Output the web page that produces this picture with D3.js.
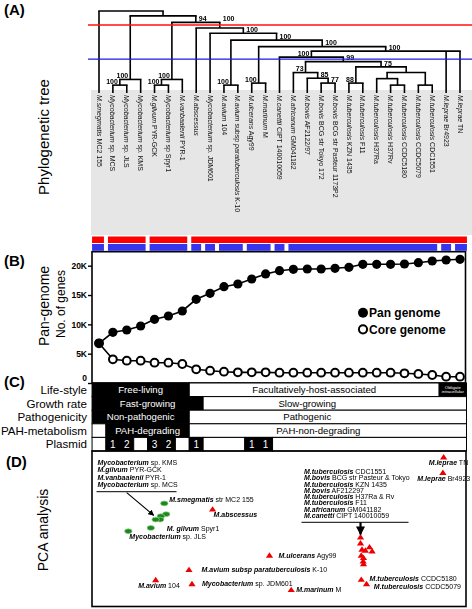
<!DOCTYPE html>
<html><head><meta charset="utf-8">
<script src="https://cdn.jsdelivr.net/npm/d3@7/dist/d3.min.js"></script>
<style>
html,body{margin:0;padding:0;background:#fff;}
svg{display:block;font-family:"Liberation Sans",Arial,Helvetica,sans-serif;}
</style></head>
<body><svg id="c" width="472" height="609"></svg>
<script>
// ---------------- DATA ----------------
// leaves (left to right); *...* = italic part
const leafLabels = [
 "*M.smegmatis* MC2 155","*Mycobacterium* sp. MCS","*Mycobacterium* sp. JLS","*Mycobacterium* sp. KMS",
 "*M.gilvum* PYR-GCK","*Mycobacterium* sp Spyr1","*M.vanbaalenii* PYR-1","*M.abscessus*",
 "*Mycobacterium* sp. JDM601","*M.avium* 104","*M.avium* subsp *paratuberculosis* K-10","*M.ulcerans* Agy99",
 "*M.marinum* M","*M.canettii* CIPT 140010059","*M.africanum* GM041182","*M.bovis* AF2122/97",
 "*M.bovis* BCG str Tokyo 172","*M.bovis* BCG str Pasteur 1173P2","*M.tuberculosis* KZN 1435","*M.tuberculosis* F11",
 "*M.tuberculosis* H37Ra","*M.tuberculosis* H37Rv","*M.tuberculosis* CCDC5180","*M.tuberculosis* CCDC5079",
 "*M.tuberculosis* CDC1551","*M.leprae* Br4923","*M.leprae* TN"];
// internal nodes: [name, children, height (root = 1), bootstrap support]
const treeNodes = [
 ["n1",[1,2],0.085,100],["n2",["n1",3],0.155,100],
 ["n3",[4,5],0.085,100],["n4",["n3",6],0.155,100],
 ["avi",[9,10],0.085,100],["um",[11,12],0.11,100],
 ["M",[16,17],0.11,77],["L",[15,"M"],0.17,85],["J",[14,"L"],0.24,73],
 ["N",[18,19],0.11,88],["P2",[21,22],0.085,null],["P",[20,"P2"],0.165,null],
 ["Q",[23,24],0.085,null],["O",["P","Q"],0.24,null],["K",["N","O"],0.31,75],
 ["I",["J","K"],0.375,99],["H",[13,"I"],0.43,100],["G",["H",25,26],0.505,100],
 ["F",["um","G"],0.56,100],["E",["avi","F"],0.64,100],["D",[8,"E"],0.725,100],
 ["C",[7,"D"],0.79,100],["B",["n4","C"],0.86,94],["A",["n2","B"],0.94,null],
 ["root",[0,"A"],1.0,null]];
const redCut = 0.827, blueCut = 0.407;

// pan / core genome sizes (genes)
const panGenome  = [6770,8640,9040,9720,10860,11420,12280,14270,15290,16420,16880,17730,18590,19150,19390,19440,19440,19560,19730,20240,20240,20240,20290,20510,20800,20970,21090];
const coreGenome = [6770,4040,3800,3800,3460,3460,3240,2340,2100,1930,1820,1820,1820,1760,1760,1760,1760,1760,1760,1760,1760,1760,1650,1540,1360,1070,1070];
const panTicks = [0,5000,10000,15000,20000];

// phenotype table: [label, firstLeaf, lastLeaf, black?, labelCentreLeaf(optional)]
const rowNames = ["Life-style","Growth rate","Pathogenicity","PAH-metabolism","Plasmid"];
const lifeStyle = [["Free-living",0,6,1],["Facultatively-host-associated",7,24,0],["Obligate\nintracellular",25,26,1]];
const growthRate = [["Fast-growing",0,7,1],["Slow-growing",8,26,0,15]];
const pathogenicity = [["Non-pathogenic",0,6,1],["Pathogenic",7,26,0,15]];
const pahMetabolism = [["",0,0,0],["PAH-degrading",1,6,1],["PAH-non-degrading",7,26,0,15.8]];
const plasmids = [0,1,2,0,3,2,0,1,0,0,0,1,1,0,0,0,0,0,0,0,0,0,0,0,0,0,0];

// PCA (arbitrary units)
const pcaNames = ["M.smegmatis MC2 155","Mycobacterium sp. KMS","M.gilvum PYR-GCK","M.vanbaalenii PYR-1","Mycobacterium sp. MCS",
 "M.gilvum Spyr1","Mycobacterium sp. JLS","M.abscessus","M.avium paratuberculosis K-10","M.avium 104","Mycobacterium sp. JDM601",
 "M.ulcerans Agy99","M.marinum M","M.tuberculosis CDC1551","M.bovis BCG Pasteur","M.bovis BCG Tokyo","M.tuberculosis KZN 1435",
 "M.bovis AF2122/97","M.tuberculosis H37Ra","M.tuberculosis H37Rv","M.tuberculosis F11","M.africanum GM041182","M.canettii CIPT 140010059",
 "M.tuberculosis CCDC5180","M.tuberculosis CCDC5079","M.leprae TN","M.leprae Br4923"];
const pcaPC1 = [19.3,19.8,18.4,18.2,17.0,15.7,9.7,32.2,25.9,17.0,26.7,47.4,53.2,71.7,71.7,72.1,73.0,74.1,74.8,71.9,72.5,72.4,72.5,71.9,73.3,93.9,93.7];
const pcaPC2 = [66.3,59.4,58.1,55.9,55.9,50.5,48.4,62.6,23.7,17.2,14.6,32.9,10.8,44.7,40.8,36.8,36.1,38.3,35.7,32.9,31.4,29.2,27.5,17.4,14.6,96.1,86.1];
const pcaFast = [1,1,1,1,1,1,1,0,0,0,0,0,0,0,0,0,0,0,0,0,0,0,0,0,0,0,0];
const pcaLabels = {0:"*M.smegmatis* str MC2 155",5:"*M. gilvum* Spyr1",6:"*Mycobacterium* sp. JLS",7:"*M.abscessus*",
 8:"*M.avium subsp paratuberculosis* K-10",9:"*M.avium* 104",10:"*Mycobacterium* sp. JDM601",11:"*M.ulcerans* Agy99",
 12:"*M.marinum* M",23:"*M.tuberculosis* CCDC5180",24:"*M.tuberculosis* CCDC5079",25:"*M.leprae* TN",26:"*M.leprae* Br4923"};
const fastGroupText = ["*Mycobacterium* sp. KMS","*M.gilvum* PYR-GCK","*M.vanbaalenii* PYR-1","*Mycobacterium* sp. MCS"];
const slowGroupText = ["*M.tuberculosis* CDC1551","*M.bovis* BCG str Pasteur & Tokyo","*M.tuberculosis* KZN 1435","*M.bovis* AF212297",
 "*M.tuberculosis* H37Ra & Rv","*M.tuberculosis* F11","*M.africanum* GM041182","*M.canetti* CIPT 140010059"];

// ---------------- LAYOUT / STYLE ----------------
const FONT = '"Liberation Sans",Arial,Helvetica,sans-serif';
const LEFT = 92, RIGHT = 466.5;
const labelOff = {0:[5,-1],5:[16,3],6:[1,7.5],7:[1,7.5],8:[12.5,2.5],9:[-17.5,8],10:[10,2.7],11:[9,2.3],12:[5,2.7],23:[8.3,2],24:[7.3,5],25:[-15,8],26:[-25.6,8]};
const supportEnd = new Set(["n1","n2","n3","n4","avi","um","H","J","N"]);
const supportDy = {C:-6};

const svg = d3.select("#c");
const defs = svg.append("defs");
defs.append("filter").attr("id","gray").append("feColorMatrix").attr("type","saturate").attr("values",0);

function richText(sel, s, boldItalic){
  s.split("*").forEach((t,i)=>{
    if(!t.length) return;
    const ts = sel.append("tspan").text(t);
    if(i%2===1){ ts.attr("font-style","italic"); if(boldItalic) ts.attr("font-weight","bold"); }
  });
}
function panelLetter(t,x,y){ svg.append("text").attr("x",x).attr("y",y).attr("font-size",15).attr("font-weight","bold").text(t); }
function sideTitle(t,x,y,fs){ svg.append("text").attr("transform",`translate(${x},${y}) rotate(-90)`).attr("text-anchor","middle").attr("font-size",fs).text(t); }

// ---------------- (A) TREE ----------------
const leafX = d3.scalePoint().domain(d3.range(leafLabels.length)).range([99,460]);
const step = leafX.step();
const treeY = d3.scaleLinear().domain([0,1]).range([92,11]);

svg.append("rect").attr("x",91).attr("y",90).attr("width",472-91).attr("height",145).attr("fill","#e6e6e6");

const nodes = {};
const xOf = c => typeof c === "number" ? leafX(c) : nodes[c].x;
const hOf = c => typeof c === "number" ? 0 : nodes[c].h;
const leavesOf = c => typeof c === "number" ? [c] : nodes[c].leaves;
treeNodes.forEach(([name,ch,h,bs])=>{
  const xs = ch.map(xOf);
  nodes[name] = {name,ch,h,bs,x:(d3.min(xs)+d3.max(xs))/2,x0:d3.min(xs),x1:d3.max(xs),leaves:ch.flatMap(leavesOf)};
});
const gT = svg.append("g").attr("stroke","#000").attr("stroke-width",1.6).attr("fill","none");
treeNodes.forEach(([name])=>{
  const n = nodes[name], y = treeY(n.h);
  gT.append("line").attr("x1",n.x0-0.8).attr("x2",n.x1+0.8).attr("y1",y).attr("y2",y);
  n.ch.forEach(c=>{
    gT.append("line").attr("x1",xOf(c)).attr("x2",xOf(c)).attr("y1",y).attr("y2",typeof c==="number"?treeY(0)+1:treeY(hOf(c)));
  });
});
// support values
const gS = svg.append("g").attr("filter","url(#gray)");
treeNodes.forEach(([name,ch,h,bs])=>{
  if(bs==null) return;
  const n = nodes[name], end = supportEnd.has(name);
  gS.append("text").attr("x", n.x + (end?-2:3)).attr("y", treeY(h) - 1.3 + (supportDy[name]||0))
    .attr("text-anchor", end?"end":"start").attr("font-size",7).attr("font-weight","bold").attr("fill","#000").text(bs);
});
// cut lines
svg.append("line").attr("x1",88).attr("x2",472).attr("y1",treeY(redCut)).attr("y2",treeY(redCut)).attr("stroke","#ff1010").attr("stroke-width",1.3);
svg.append("line").attr("x1",88).attr("x2",472).attr("y1",treeY(blueCut)).attr("y2",treeY(blueCut)).attr("stroke","#1a1ae6").attr("stroke-width",1.3);
// leaf labels
const gL = svg.append("g").attr("filter","url(#gray)");
leafLabels.forEach((s,i)=>{
  const t = gL.append("text").attr("transform",`translate(${leafX(i)-2.4},95) rotate(90)`).attr("font-size",7).attr("fill","#111");
  richText(t,s,false);
});
// clusters from cuts
function clusters(cut){
  const out=[];
  (function walk(c){ if(hOf(c) > cut) nodes[c].ch.forEach(walk); else out.push(leavesOf(c)); })("root");
  return out.map(l=>[d3.min(l),d3.max(l)]).sort((a,b)=>a[0]-b[0]);
}
function clusterBar(cut,y,h,color){
  clusters(cut).forEach(([a,b],k,arr)=>{
    const x0 = Math.max(leafX(a)-step/2+(k?2:0), 91), x1 = Math.min(leafX(b)+step/2-(k<arr.length-1?2:0), 471);
    svg.append("rect").attr("x",x0).attr("y",y).attr("width",x1-x0).attr("height",h).attr("fill",color);
  });
}
clusterBar(redCut,236.5,6.5,"#ff0000");
clusterBar(blueCut,244,6.8,"#3535f0");

panelLetter("(A)",4,15);
sideTitle("Phylogenetic tree",49,137,15);

// ---------------- (B) PAN GENOME ----------------
const plotTop = 251.7, plotBot = 383;
const yPan = d3.scaleLinear().domain([0,20000]).range([plotBot,265.7]);
svg.append("rect").attr("x",LEFT).attr("y",plotTop).attr("width",RIGHT-LEFT-1).attr("height",plotBot-plotTop).attr("fill","none").attr("stroke","#000").attr("stroke-width",1.6);
const ax = svg.append("g").attr("transform",`translate(${LEFT},0)`)
  .call(d3.axisLeft(yPan).tickValues(panTicks).tickSize(4).tickPadding(1).tickFormat(d=>d===0?"0":(d/1000)+"K"));
ax.select(".domain").remove();
ax.selectAll("line").attr("stroke-width",1.4);
ax.selectAll("text").attr("font-size",8.5).attr("font-weight","bold").attr("font-family",FONT);
ax.selectAll(".tick").filter(d=>d===0).select("text").attr("dy","-0.25em");
const lineGen = d3.line().x((d,i)=>leafX(i)).y(d=>yPan(d));
svg.append("path").attr("d",lineGen(panGenome)).attr("fill","none").attr("stroke","#000").attr("stroke-width",1.6);
svg.append("path").attr("d",lineGen(coreGenome)).attr("fill","none").attr("stroke","#000").attr("stroke-width",1.6);
svg.selectAll(".core").data(coreGenome).join("circle").attr("cx",(d,i)=>leafX(i)).attr("cy",d=>yPan(d)).attr("r",3.9)
  .attr("fill","#fff").attr("stroke","#000").attr("stroke-width",2);
svg.selectAll(".pan").data(panGenome).join("circle").attr("cx",(d,i)=>leafX(i)).attr("cy",d=>yPan(d)).attr("r",4.6).attr("fill","#000");
// legend
svg.append("circle").attr("cx",363).attr("cy",312.7).attr("r",5).attr("fill","#000");
svg.append("circle").attr("cx",363).attr("cy",329.3).attr("r",4.1).attr("fill","#fff").attr("stroke","#000").attr("stroke-width",2);
svg.append("text").attr("x",369).attr("y",316.8).attr("font-size",12).attr("font-weight","bold").text("Pan genome");
svg.append("text").attr("x",369).attr("y",333.5).attr("font-size",12).attr("font-weight","bold").text("Core genome");
panelLetter("(B)",4,266);
sideTitle("Pan-genome",49,306,14);
sideTitle("No. of genes",65,304,12);

// ---------------- (C) TABLE ----------------
const rowH = 13.6, tTop = plotBot;
const segX0 = i => Math.max(leafX(i)-step/2, LEFT), segX1 = i => Math.min(leafX(i)+step/2, RIGHT);
function drawRow(r, segs){
  const y0 = tTop + r*rowH;
  segs.forEach(([lab,a,b,black,at])=>{
    const x0 = segX0(a), x1 = segX1(b);
    svg.append("rect").attr("x",x0).attr("y",y0).attr("width",x1-x0).attr("height",rowH)
      .attr("fill",black?"#000":"#fff").attr("stroke","#000").attr("stroke-width",1);
    const lines = lab.split("\n");
    const cx = at!=null ? leafX(Math.floor(at)) + (at%1)*step : (x0+x1)/2;
    if(lines.length>1){
      lines.forEach((l,k)=>svg.append("text").attr("x",cx).attr("y",y0+5.5+k*4.6).attr("text-anchor","middle")
        .attr("font-size",4.3).attr("fill",black?"#fff":"#000").text(l));
    } else if(lab){
      svg.append("text").attr("x",cx).attr("y",y0+rowH/2+3.4).attr("text-anchor","middle").attr("font-size",9.6)
        .attr("fill",black?"#fff":"#000").text(lab);
    }
  });
  svg.append("text").attr("x",87).attr("y",y0+rowH/2+4.2).attr("text-anchor","end").attr("font-size",11.6).text(rowNames[r]);
}
drawRow(0,lifeStyle); drawRow(1,growthRate); drawRow(2,pathogenicity); drawRow(3,pahMetabolism);
// plasmid row grouped
(function(){
  const segs=[]; let s=0;
  for(let i=1;i<=plasmids.length;i++){
    if(i===plasmids.length || (plasmids[i]>0)!==(plasmids[s]>0)){ segs.push(["",s,i-1,plasmids[s]>0?1:0]); s=i; }
  }
  drawRow(4,segs);
  plasmids.forEach((p,i)=>{ if(p>0) svg.append("text").attr("x",leafX(i)).attr("y",tTop+4*rowH+rowH/2+3.6)
     .attr("text-anchor","middle").attr("font-size",10).attr("fill","#fff").text(p); });
})();
panelLetter("(C)",4,387);

// ---------------- (D) PCA ----------------
const dTop = tTop + 5*rowH, dBot = 606.5;
svg.append("rect").attr("x",LEFT).attr("y",dTop).attr("width",RIGHT-LEFT-0.5).attr("height",dBot-dTop).attr("fill","none").attr("stroke","#000").attr("stroke-width",1.6);
const px = d3.scaleLinear().domain([0,100]).range([LEFT,RIGHT]);
const py = d3.scaleLinear().domain([0,100]).range([dBot,dTop]);
defs.append("marker").attr("id","ah").attr("viewBox","0 0 10 10").attr("refX",9).attr("refY",5)
  .attr("markerWidth",6).attr("markerHeight",6).attr("markerUnits","userSpaceOnUse").attr("orient","auto")
  .append("path").attr("d","M0,0L10,5L0,10Z").attr("fill","#000");
defs.append("marker").attr("id","ah2").attr("viewBox","0 0 10 10").attr("refX",9).attr("refY",5)
  .attr("markerWidth",9).attr("markerHeight",9).attr("markerUnits","userSpaceOnUse").attr("orient","auto")
  .append("path").attr("d","M0,0L10,5L0,10Z").attr("fill","#000");
const gP = svg.append("g").attr("filter","url(#gray)");
pcaPC1.forEach((v,i)=>{
  const x = px(v), y = py(pcaPC2[i]);
  if(pcaFast[i]) svg.append("ellipse").attr("cx",x).attr("cy",y).attr("rx",3.7).attr("ry",2.4).attr("fill","#1d861d").attr("stroke","#8fd28f").attr("stroke-width",0.7);
  else svg.append("path").attr("transform",`translate(${x},${y})`).attr("d","M0,-3L3.6,2.4L-3.6,2.4Z").attr("fill","#ee0000");
  if(pcaLabels[i]){
    const t = gP.append("text").attr("x",x+labelOff[i][0]).attr("y",y+labelOff[i][1]).attr("font-size",7);
    richText(t,pcaLabels[i],true);
  }
});
// group label blocks
function block(lines,x,y0,dy){
  lines.forEach((s,k)=>{ const t=gP.append("text").attr("x",x).attr("y",y0+k*dy).attr("font-size",7); richText(t,s,true); });
}
block(fastGroupText,97.5,465,7.3);
block(slowGroupText,304,474,6.25);
svg.append("line").attr("x1",96.5).attr("x2",176.5).attr("y1",491.7).attr("y2",491.7).attr("stroke","#000").attr("stroke-width",1);
svg.append("line").attr("x1",301.5).attr("x2",408.5).attr("y1",522.3).attr("y2",522.3).attr("stroke","#000").attr("stroke-width",1);
// arrows to clusters (derived from the cluster points)
const fastC = [1,2,3,4];
const fcx = d3.mean(fastC,i=>px(pcaPC1[i])), fcy = d3.mean(fastC,i=>py(pcaPC2[i]));
svg.append("line").attr("x1",126.7).attr("y1",492.7).attr("x2",fcx-7).attr("y2",fcy-2).attr("stroke","#000").attr("stroke-width",1.1).attr("marker-end","url(#ah)");
const mtbTop = 13;
svg.append("line").attr("x1",px(pcaPC1[mtbTop])).attr("y1",522.3).attr("x2",px(pcaPC1[mtbTop])).attr("y2",py(pcaPC2[mtbTop])-2.5)
  .attr("stroke","#000").attr("stroke-width",2.2).attr("marker-end","url(#ah2)");
panelLetter("(D)",6,467);
sideTitle("PCA analysis",48,530,14);
</script></body></html>
